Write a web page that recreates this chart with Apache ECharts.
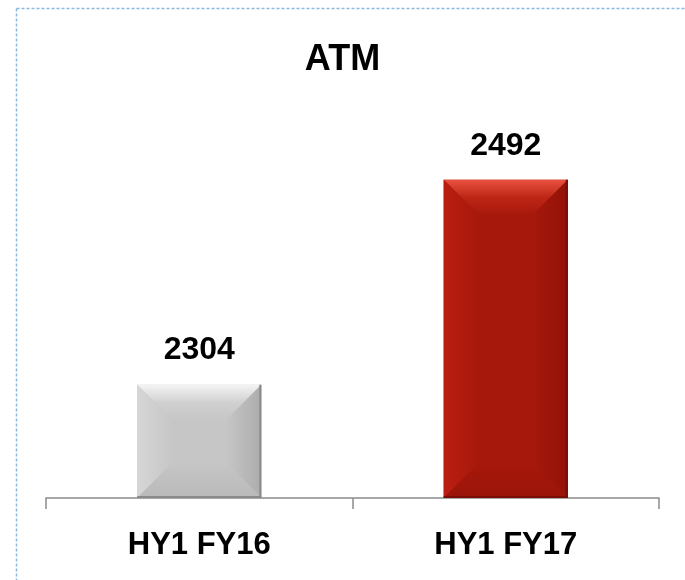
<!DOCTYPE html>
<html><head><meta charset="utf-8">
<script src="https://cdn.jsdelivr.net/npm/echarts@6/dist/echarts.min.js"></script>
<style>html,body{margin:0;padding:0;background:#fff}#c{width:685px;height:580px}</style>
</head><body><div id="c"></div>
<script>
var titleText = 'ATM';
var categories = ['HY1 FY16', 'HY1 FY17'];
var values = [2304, 2492];
var axisMin = 2200;
var axisMax = 2500;

var palettes = [
  {main:'#c6c6c6', topA:'#f4f4f4', topB:'#d0d0d0', left:'#d6d6d6', right:'#adadad', bottom:'#b9b9b9', edge:'#8a8a8a'},
  {main:'#a6180b', topA:'#e8513f', topB:'#bd2515', left:'#bb1e11', right:'#931208', bottom:'#9b1409', edge:'#7a0d05'}
];
var FONT = '"Liberation Sans", Arial, sans-serif';

var chart = echarts.init(document.getElementById('c'));
chart.setOption({
  animation:false,
  backgroundColor:'#fff',
  title:{text:titleText, left:'center', top:37,
    textStyle:{fontFamily:FONT, fontSize:36, fontWeight:'bold', color:'#000', lineHeight:36}},
  grid:{left:46, right:26, top:171, bottom:82},
  xAxis:{type:'category', data:categories,
    axisLine:{lineStyle:{color:'#8c8c8c', width:1.5}},
    axisTick:{show:true, length:11, lineStyle:{color:'#8c8c8c', width:1.5}},
    axisLabel:{margin:32, fontFamily:FONT, fontSize:31, fontWeight:'bold', color:'#000', lineHeight:31}},
  yAxis:{type:'value', min:axisMin, max:axisMax, show:false, splitLine:{show:false}},
  graphic:[
    {type:'line', shape:{x1:16.5,y1:8.5,x2:685,y2:8.5}, style:{stroke:'#8ab9e0', lineWidth:1.5, lineDash:[3,2]}},
    {type:'line', shape:{x1:16.5,y1:8.5,x2:16.5,y2:580}, style:{stroke:'#8ab9e0', lineWidth:1.5, lineDash:[3,2]}}
  ],
  series:[{
    type:'custom',
    data: values.map(function(v,i){return [i,v];}),
    renderItem:function(params, api){
      var i = api.value(0), v = api.value(1);
      var top = api.coord([i, v]);
      var base = api.coord([i, axisMin]);
      var w = api.size([1,0])[0]*0.405;
      var x0 = top[0]-w/2, x1 = top[0]+w/2, y0 = top[1], y1 = base[1];
      var h = y1-y0;
      var b = Math.min(36, h/2.6, w/2.6);
      var p = palettes[i];
      var ix0 = x0+b, ix1 = x1-b, iy0 = y0+b, iy1 = y1-b;
      var children = [
        {type:'rect', shape:{x:x0,y:y0,width:w,height:h}, style:{fill:p.main}},
        {type:'polygon', shape:{points:[[x0,y0],[x1,y0],[ix1,iy0],[ix0,iy0]]},
          style:{fill:new echarts.graphic.LinearGradient(0,0,0,1,[{offset:0,color:p.topA},{offset:0.5,color:p.topB},{offset:1,color:p.main}])}},
        {type:'polygon', shape:{points:[[x0,y0],[ix0,iy0],[ix0,iy1],[x0,y1]]},
          style:{fill:new echarts.graphic.LinearGradient(0,0,1,0,[{offset:0,color:p.left},{offset:1,color:p.main}])}},
        {type:'polygon', shape:{points:[[x1,y0],[x1,y1],[ix1,iy1],[ix1,iy0]]},
          style:{fill:new echarts.graphic.LinearGradient(0,0,1,0,[{offset:0,color:p.main},{offset:1,color:p.right}])}},
        {type:'polygon', shape:{points:[[x0,y1],[ix0,iy1],[ix1,iy1],[x1,y1]]},
          style:{fill:new echarts.graphic.LinearGradient(0,0,0,1,[{offset:0,color:p.main},{offset:1,color:p.bottom}])}},
        {type:'line', shape:{x1:x1-1,y1:y0,x2:x1-1,y2:y1}, style:{stroke:p.edge, lineWidth:2}},
        {type:'line', shape:{x1:x0,y1:y1-1,x2:x1,y2:y1-1}, style:{stroke:p.edge, lineWidth:2}},
        {type:'text', style:{text:String(v), x:top[0], y:y0-34, align:'center', verticalAlign:'middle',
          font:'bold 32px ' + FONT, fill:'#000'}}
      ];
      return {type:'group', children:children};
    }
  }]
});
</script></body></html>
